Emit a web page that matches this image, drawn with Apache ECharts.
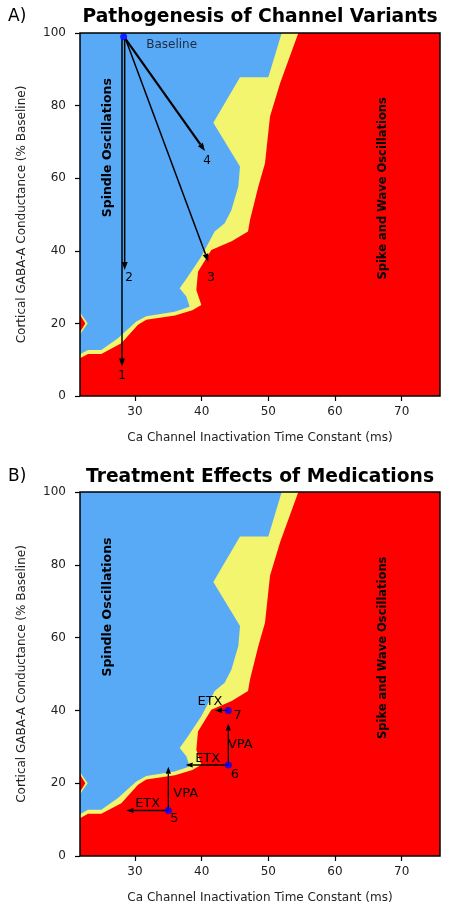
<!DOCTYPE html>
<html><head><meta charset="utf-8">
<script src="https://cdn.jsdelivr.net/npm/echarts@6/dist/echarts.min.js"></script>
<style>html,body{margin:0;padding:0;background:#fff}#c{width:452px;height:913px}</style>
</head><body><div id="c"></div>
<script>
// ---- data ----
const xTicks = [30, 40, 50, 60, 70];
const yTicks = [0, 20, 40, 60, 80, 100];
const xMin = 21.75, xMax = 75.75, yMin = 0, yMax = 100;
// blue (spindle) / yellow boundary, bottom-left to top
const spindleBoundary = [[21.75,11.5],[22.95,12.7],[24.95,12.7],[27.45,15.9],[30.2,20.5],[31.7,22.0],[35.95,23.2],[38.2,24.6],[37.7,27.4],[36.7,29.7],[37.95,32.9],[39.95,38.4],[41.95,45.3],[43.45,47.6],[44.45,51.2],[45.5,57.7],[45.75,63.2],[41.75,75.3],[45.75,87.8],[50.0,87.8],[52.0,100]];
// yellow / red (spike-wave) boundary, bottom-left to top
const swdBoundary = [[21.75,10.4],[22.95,11.6],[24.95,11.6],[27.95,14.5],[30.45,19.6],[31.7,21.0],[36.0,22.2],[38.6,23.6],[39.95,25.1],[39.2,29.2],[39.45,34.2],[41.45,40.2],[44.5,42.6],[46.95,45.3],[47.25,48.5],[48.5,57.7],[49.5,64.1],[50.25,77],[51.75,86.1],[54.5,100]];
const islandOuter = [[21.75,23.0],[22.9,20],[21.75,17.0]];
const islandInner = [[21.75,22.4],[22.55,20],[21.75,17.6]];
const baselinePoint = [[28.3, 99]];
const variantArrows = [[28.05,98.3,28.05,8.1],[28.45,98.3,28.45,34.7],[28.6,98.3,41.0,37.0],[28.6,98.3,40.5,67.5]];
const variantArrowWidths = [1.5, 1.5, 1.5, 2.2];
const variantLabels = [[28.05,5.6,'1'],[29.1,32.6,'2'],[41.4,32.6,'3'],[40.8,64.9,'4']];
const treatmentPoints = [[35,12.5],[44,25],[44,40]];
const treatmentArrows = [[35,12.5,28.7,12.5],[35,12.5,35,24.5],[44,25,37.6,25],[44,25,44,36.4],[44,40,42.0,40]];
const treatmentLabels = [[31.9,14.3,'ETX'],[37.6,17.0,'VPA'],[35.9,10.2,'5'],[40.9,26.7,'ETX'],[45.8,30.7,'VPA'],[45.0,22.3,'6'],[41.25,42.4,'ETX'],[45.4,38.7,'7']];
const regionLabelSpindle = [25.9, 68.4, 'Spindle Oscillations'];
const regionLabelSWD = [67.2, 57.2, 'Spike and Wave Oscillations'];

// ---- style ----
const BLUE = '#59aaf6', YELLOW = '#f2f56d', RED = '#ff0000';
const FONT = 'DejaVu Sans';

function polygon(gi, pts, color, z) {
  return {type:'custom', xAxisIndex:gi, yAxisIndex:gi, data:[[xMin,yMin]], clip:true, silent:true, z:z,
    renderItem:(p, api) => ({type:'polygon', shape:{points: pts.map(q => api.coord(q))}, style:{fill:color}})};
}
function frame(gi) {
  return {type:'custom', xAxisIndex:gi, yAxisIndex:gi, data:[[xMin,yMin]], silent:true, z:20,
    renderItem:(p, api) => {
      const a = api.coord([xMin,yMax]), b = api.coord([xMax,yMin]);
      return {type:'rect', shape:{x:a[0], y:a[1], width:b[0]-a[0], height:b[1]-a[1]}, style:{fill:null, stroke:'#000', lineWidth:1.5}};
    }};
}
function arrows(gi, list, widths, hl, hw) {
  return {type:'custom', xAxisIndex:gi, yAxisIndex:gi, data:list, encode:{x:[0,2], y:[1,3]}, silent:true, z:12,
    renderItem:(p, api) => {
      const a = list[p.dataIndex];
      const lw = widths ? widths[p.dataIndex] : 1.3;
      const p0 = api.coord([a[0],a[1]]), p1 = api.coord([a[2],a[3]]);
      const dx = p1[0]-p0[0], dy = p1[1]-p0[1], L = Math.hypot(dx,dy), ux = dx/L, uy = dy/L;
      const bx = p1[0]-ux*hl, by = p1[1]-uy*hl;
      return {type:'group', children:[
        {type:'line', shape:{x1:p0[0], y1:p0[1], x2:bx, y2:by}, style:{stroke:'#000', lineWidth:lw}},
        {type:'polygon', shape:{points:[[p1[0],p1[1]],[bx-uy*hw,by+ux*hw],[bx+uy*hw,by-ux*hw]]}, style:{fill:'#000'}}
      ]};
    }};
}
function texts(gi, list, size, weight, color, rot) {
  return {type:'custom', xAxisIndex:gi, yAxisIndex:gi, data:list.map(t => [t[0], t[1]]), silent:true, z:14,
    renderItem:(p, api) => {
      const t = list[p.dataIndex];
      const c = api.coord([t[0], t[1]]);
      return {type:'text', x:c[0], y:c[1], rotation: rot || 0,
        style:{text:t[2], fontSize:size, fontWeight:weight, fontFamily:FONT, fill:color, align:'center', verticalAlign:'middle'}};
    }};
}
function panelSeries(gi) {
  return [
    polygon(gi, [[xMin,yMin],[xMax,yMin],[xMax,yMax],[xMin,yMax]], RED, 1),
    polygon(gi, [[xMin,yMax]].concat(swdBoundary), YELLOW, 2),
    polygon(gi, [[xMin,yMax]].concat(spindleBoundary), BLUE, 3),
    polygon(gi, islandOuter, YELLOW, 4),
    polygon(gi, islandInner, RED, 5),
    texts(gi, [regionLabelSpindle], 12.5, 'bold', '#000', Math.PI/2),
    texts(gi, [regionLabelSWD], 11.5, 'bold', '#000', Math.PI/2),
    frame(gi)
  ];
}

const xAxisBase = gi => ({type:'value', gridIndex:gi, min:xMin, max:xMax, z:10,
  name:'Ca Channel Inactivation Time Constant (ms)', nameLocation:'middle', nameGap:36,
  nameTextStyle:{fontSize:12, fontFamily:FONT, color:'#222'},
  axisLine:{show:false}, splitLine:{show:false},
  axisTick:{show:true, length:5, lineStyle:{color:'#000', width:1.2}, customValues:xTicks},
  axisLabel:{fontSize:12, fontFamily:FONT, color:'#222', margin:10, customValues:xTicks}});
const yAxisBase = gi => ({type:'value', gridIndex:gi, min:yMin, max:yMax, interval:20, z:10,
  name:'Cortical GABA-A Conductance (% Baseline)', nameLocation:'middle', nameGap:52,
  nameTextStyle:{fontSize:12, fontFamily:FONT, color:'#222'},
  axisLine:{show:false}, splitLine:{show:false},
  axisTick:{show:true, length:5, lineStyle:{color:'#000', width:1.2}},
  axisLabel:{fontSize:12, fontFamily:FONT, color:'#222', margin:14}});

const chart = echarts.init(document.getElementById('c'), null, {renderer:'canvas'});
chart.setOption({
  animation:false,
  backgroundColor:'#fff',
  grid:[{left:80, top:33, width:360, height:363}, {left:80, top:492, width:360, height:364}],
  xAxis:[xAxisBase(0), xAxisBase(1)],
  yAxis:[yAxisBase(0), yAxisBase(1)],
  graphic:[
    {type:'text', x:8, y:17, style:{text:'A)', fontSize:17, fontFamily:FONT, fill:'#000', verticalAlign:'middle'}},
    {type:'text', x:260, y:17.5, style:{text:'Pathogenesis of Channel Variants', fontSize:18.7, fontWeight:'bold', fontFamily:FONT, fill:'#000', align:'center', verticalAlign:'middle'}},
    {type:'text', x:8, y:477, style:{text:'B)', fontSize:17, fontFamily:FONT, fill:'#000', verticalAlign:'middle'}},
    {type:'text', x:260, y:477.5, style:{text:'Treatment Effects of Medications', fontSize:18.7, fontWeight:'bold', fontFamily:FONT, fill:'#000', align:'center', verticalAlign:'middle'}}
  ],
  series: [].concat(
    panelSeries(0),
    [
      arrows(0, variantArrows, variantArrowWidths, 8, 3),
      texts(0, variantLabels, 12, 'normal', '#000'),
      texts(0, [[35.5, 96.6, 'Baseline']], 12, 'normal', '#1c2b40'),
      {type:'scatter', xAxisIndex:0, yAxisIndex:0, data:baselinePoint, symbolSize:7, itemStyle:{color:'#0000ff'}, z:15, silent:true}
    ],
    panelSeries(1),
    [
      arrows(1, treatmentArrows, null, 7, 2.6),
      texts(1, treatmentLabels, 13, 'normal', '#000'),
      {type:'scatter', xAxisIndex:1, yAxisIndex:1, data:treatmentPoints, symbolSize:7, itemStyle:{color:'#0000ff'}, z:15, silent:true}
    ]
  )
});
</script></body></html>
